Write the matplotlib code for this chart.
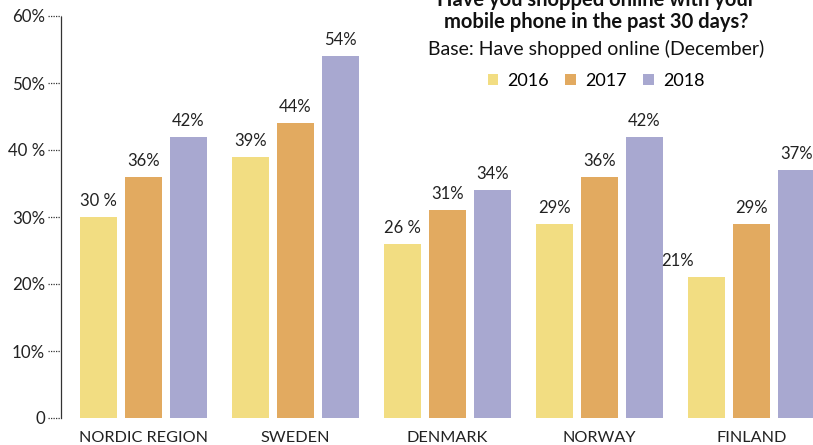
import matplotlib
matplotlib.use("Agg")
import matplotlib.pyplot as plt
import numpy as np

categories = ["NORDIC REGION", "SWEDEN", "DENMARK", "NORWAY", "FINLAND"]
years = ["2016", "2017", "2018"]
v2016 = [30, 39, 26, 29, 21]
v2017 = [36, 44, 31, 36, 29]
v2018 = [42, 54, 34, 42, 37]
lab2016 = ["30 %", "39%", "26 %", "29%", "21%"]
lab2017 = ["36%", "44%", "31%", "36%", "29%"]
lab2018 = ["42%", "54%", "34%", "42%", "37%"]
yticks = [0, 10, 20, 30, 40, 50, 60]
yticklabels = ["0", "10%", "20%", "30%", "40 %", "50%", "60%"]
colors = ["#F2DD82", "#E2AA60", "#A8A8D0"]

plt.rcParams['font.family'] = ['Lato', 'DejaVu Sans']

fig = plt.figure(figsize=(8.13, 4.45), dpi=100)
ax = fig.add_axes([61/813, 27/445, 752/813, 402/445])

x = np.arange(len(categories))
w = 0.243
off = 0.296
series = [v2016, v2017, v2018]
labels = [lab2016, lab2017, lab2018]
for i, (vals, labs) in enumerate(zip(series, labels)):
    xs = x + (i - 1) * off
    ax.bar(xs, vals, width=w, color=colors[i], label=years[i])
    for j, (xi, v, l) in enumerate(zip(xs, vals, labs)):
        dx = -0.19 if (i == 0 and j == 4) else 0
        ax.text(xi + dx, v + 1.2, l, ha='center', va='bottom', fontsize=12,
                color='#222222', clip_on=False)

ax.set_xlim(-0.543, 4.405)
ax.set_ylim(0, 60)
ax.set_yticks(yticks)
ax.set_yticklabels(yticklabels, fontsize=12.2, color='#222222')
ax.set_xticks(x)
ax.set_xticklabels(categories, fontsize=11.7, color='#222222')
ax.tick_params(axis='x', length=0, pad=9)
ax.tick_params(axis='y', length=0, pad=11.5)
for s in ['top', 'right', 'bottom']:
    ax.spines[s].set_visible(False)
ax.spines['left'].set_linestyle((0, (1, 1)))
ax.spines['left'].set_linewidth(0.9)
ax.spines['left'].set_color('#333333')
for t in yticks:
    ax.plot([-0.543 - 13/152, -0.543], [t, t], ls=(0, (1, 1)), lw=0.9, color='#333333', clip_on=False)

cx = 596/813
fig.text(cx, 1.0, "Have you shopped online with your", ha='center', va='center',
         fontsize=14.5, fontweight='bold', color='#111111')
fig.text(cx, 0.950, "mobile phone in the past 30 days?", ha='center', va='center',
         fontsize=14.5, fontweight='bold', color='#111111')
fig.text(cx, 0.890, "Base: Have shopped online (December)", ha='center', va='center',
         fontsize=14, color='#111111')
fig.legend(loc='center', bbox_to_anchor=(cx, 0.818), ncol=3, frameon=False,
           fontsize=13, handlelength=0.6, handleheight=0.6, handletextpad=0.5,
           columnspacing=0.9)

fig.savefig("out.png", dpi=100)
